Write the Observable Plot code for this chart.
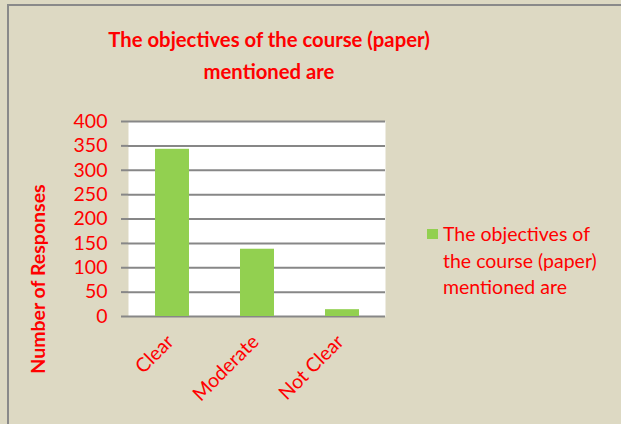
<!DOCTYPE html>
<html>
<head>
<meta charset="utf-8">
<script src="https://cdn.jsdelivr.net/npm/d3@7"></script>
<script src="https://cdn.jsdelivr.net/npm/@observablehq/plot@0.6"></script>
<style>
  html, body { margin: 0; padding: 0; background: #DDD9C3; }
  #wrap { position: relative; width: 621px; height: 424px; overflow: hidden; background: #DDD9C3; font-family: Lato, "Noto Sans", sans-serif; }
  #frame { position: absolute; left: 7px; top: 4px; width: 700px; height: 500px; border-left: 2px solid #8a8a8a; border-top: 2px solid #8a8a8a; box-sizing: border-box; }
  #chart { position: absolute; left: 0; top: 0; }
  #title { position: absolute; left: 69px; width: 400px; top: 23px; text-align: center; color: #FF0000; font-weight: bold; font-size: 20.3px; line-height: 32px; }
  #legend { position: absolute; left: 427px; top: 221px; color: #FF0000; font-size: 19.5px; line-height: 26.5px; }
  #legend .sw { position: absolute; left: 0; top: 8px; width: 11px; height: 10px; background: #92D050; }
  #legend .tx { position: absolute; left: 16px; top: 0; white-space: nowrap; }
</style>
</head>
<body>
<div id="wrap">
  <div id="frame"></div>
  <div id="chart"></div>
  <div id="title">The objectives of the course (paper)<br>mentioned are</div>
  <div id="legend"><div class="sw"></div><div class="tx">The objectives of<br>the course (paper)<br>mentioned are</div></div>
</div>
<script>
const categories = ["Clear", "Moderate", "Not Clear"];
const responses = [343, 138, 14];
const yTicks = [0, 50, 100, 150, 200, 250, 300, 350, 400];
const seriesName = "The objectives of the course (paper) mentioned are";
const yTitle = "Number of Responses";

const data = categories.map((c, i) => ({category: c, value: responses[i]}));

const red = "#FF0000";
const gray = "#878787";

const chart = Plot.plot({
  width: 621,
  height: 424,
  marginLeft: 128,
  marginRight: 236,
  marginTop: 121,
  marginBottom: 108,
  style: {background: "transparent", fontFamily: "Lato, 'Noto Sans', sans-serif"},
  x: {domain: categories, paddingInner: 0.6, paddingOuter: 0.3, label: null},
  y: {domain: [0, 400], ticks: yTicks, label: null},
  marks: [
    Plot.frame({fill: "white", stroke: null}),
    Plot.gridY(yTicks, {stroke: gray, strokeOpacity: 1, strokeWidth: 2}),
    Plot.axisY(yTicks, {tickSize: 7, tickPadding: 14, stroke: gray, strokeWidth: 2, fill: red, fontSize: 19.5, label: null}),
    Plot.barY(data, {x: "category", y: "value", fill: "#92D050"}),
    Plot.ruleX([0], {frameAnchor: "left", stroke: gray, strokeWidth: 2}),
    Plot.axisX({tickRotate: -45, tickSize: 0, tickPadding: 22, fill: red, fontSize: 19.5, label: null, dx: -2}),
    Plot.text([yTitle], {frameAnchor: "left", textAnchor: "middle", dx: -90, dy: 60, rotate: -90, fill: red, fontSize: 19.5, fontWeight: "bold"})
  ]
});
document.getElementById("chart").appendChild(chart);
</script>
</body>
</html>
